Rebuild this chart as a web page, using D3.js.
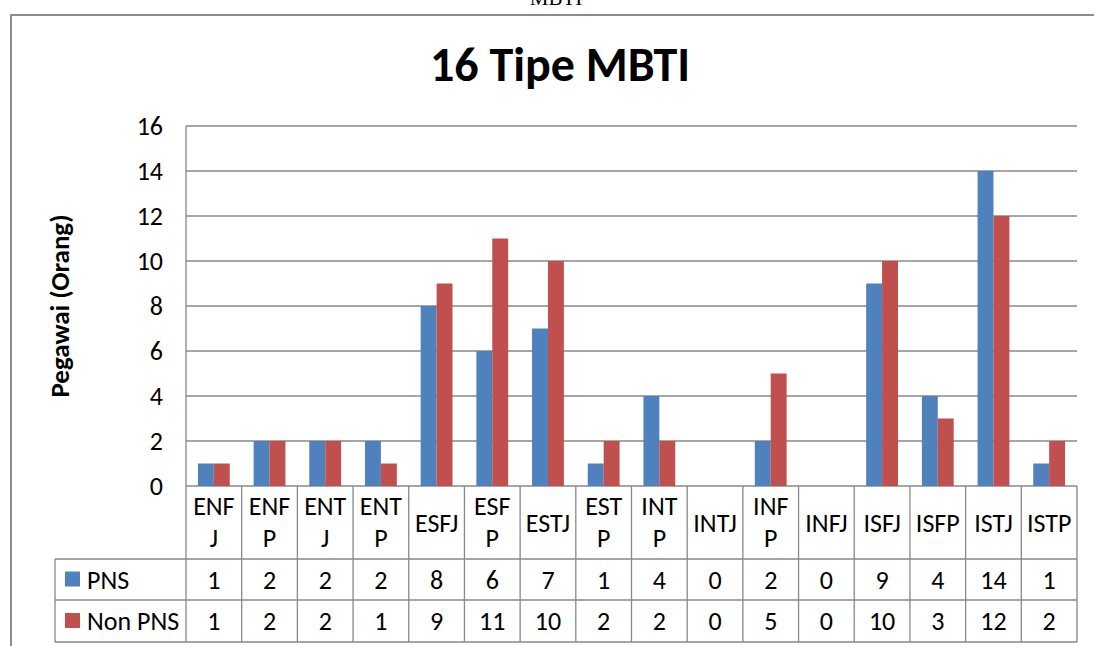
<!DOCTYPE html>
<html>
<head>
<meta charset="utf-8">
<script src="https://cdn.jsdelivr.net/npm/d3@7/dist/d3.min.js"></script>
<style>
  html, body { margin: 0; padding: 0; background: #fff; }
  svg { display: block; }
  text { font-family: Carlito, Lato, "Open Sans", sans-serif; fill: #000; }
</style>
</head>
<body>
<svg id="chart" width="1094" height="646"></svg>
<script>
// MBTI types and employee counts per group
const categories = ["ENFJ","ENFP","ENTJ","ENTP","ESFJ","ESFP","ESTJ","ESTP","INTP","INTJ","INFP","INFJ","ISFJ","ISFP","ISTJ","ISTP"];
const pns    = [1, 2, 2, 2, 8, 6, 7, 1, 4, 0, 2, 0, 9, 4, 14, 1];
const nonPns = [1, 2, 2, 1, 9, 11, 10, 2, 2, 0, 5, 0, 10, 3, 12, 2];
const seriesNames = ["PNS", "Non PNS"];
const yTicks = [0, 2, 4, 6, 8, 10, 12, 14, 16];
// labels that wrap onto two lines inside their table cell
const wrappedLabels = ["ENFJ","ENFP","ENTJ","ENTP","ESFP","ESTP","INTP","INFP"];

const colors = ["#4F81BD", "#C0504D"];
const gridColor = "#888888";
const fontSize = "26px";

const svg = d3.select("#chart");

const plot = { left: 186, right: 1077, top: 126, bottom: 486 };
const table = { left: 55, catBottom: 559, row1Bottom: 600, bottom: 642 };

// caption line above the chart frame
svg.append("text")
  .attr("x", 556).attr("y", 5)
  .attr("text-anchor", "middle")
  .style("font-family", "'Liberation Serif', 'DejaVu Serif', serif")
  .style("font-size", "21px")
  .text("MBTI");

// chart frame
svg.append("path")
  .attr("d", "M11,646 V15 H1094")
  .attr("fill", "none")
  .attr("stroke", "#8c8c8c")
  .attr("stroke-width", 2);

// title
svg.append("text")
  .attr("x", 560).attr("y", 81)
  .attr("text-anchor", "middle")
  .style("font-size", "48px")
  .style("font-weight", "bold")
  .text("16 Tipe MBTI");

const x = d3.scaleBand()
  .domain(categories)
  .range([plot.left, plot.right]);

const inner = d3.scaleBand()
  .domain(seriesNames)
  .range([0, x.bandwidth()])
  .paddingInner(0)
  .paddingOuter(0.75);

const y = d3.scaleLinear()
  .domain([0, 16])
  .range([plot.bottom, plot.top]);

// horizontal gridlines
svg.append("g")
  .selectAll("line")
  .data(yTicks)
  .join("line")
  .attr("x1", plot.left).attr("x2", plot.right)
  .attr("y1", d => y(d)).attr("y2", d => y(d))
  .attr("stroke", gridColor)
  .attr("stroke-width", 1.3);

// y axis with tick labels
const yAxis = d3.axisLeft(y).tickValues(yTicks).tickSize(0).tickPadding(23);
const gy = svg.append("g")
  .attr("transform", `translate(${plot.left},0)`)
  .call(yAxis);
gy.select(".domain").remove();
gy.selectAll("text")
  .style("font-family", "Carlito, Lato, 'Open Sans', sans-serif")
  .style("font-size", fontSize)
  .attr("dy", "0.33em")
  .attr("fill", "#000");

// y axis title
svg.append("text")
  .attr("transform", `translate(69,${(plot.top + plot.bottom) / 2}) rotate(-90)`)
  .attr("text-anchor", "middle")
  .style("font-size", "27px")
  .style("font-weight", "bold")
  .text("Pegawai (Orang)");

// bars
const seriesData = [pns, nonPns];
const rows = categories.map((c, i) => ({ cat: c, values: seriesData.map(s => s[i]) }));

const groups = svg.append("g")
  .selectAll("g")
  .data(rows)
  .join("g")
  .attr("transform", d => `translate(${x(d.cat)},0)`);

groups.selectAll("rect")
  .data(d => d.values.map((v, k) => ({ name: seriesNames[k], v, k })))
  .join("rect")
  .attr("x", d => inner(d.name))
  .attr("width", inner.bandwidth())
  .attr("y", d => y(d.v))
  .attr("height", d => y(0) - y(d.v))
  .attr("fill", d => colors[d.k]);

// data table grid
const tg = svg.append("g").attr("stroke", gridColor).attr("stroke-width", 1.3);
// vertical axis line continuing through the table
tg.append("line")
  .attr("x1", plot.left).attr("x2", plot.left)
  .attr("y1", plot.top).attr("y2", table.bottom);
// category boundaries
tg.selectAll("line.vb")
  .data(categories)
  .join("line")
  .attr("class", "vb")
  .attr("x1", d => x(d) + x.bandwidth()).attr("x2", d => x(d) + x.bandwidth())
  .attr("y1", plot.bottom).attr("y2", table.bottom);
// row lines
[table.catBottom, table.row1Bottom, table.bottom].forEach(yy => {
  tg.append("line")
    .attr("x1", table.left).attr("x2", plot.right)
    .attr("y1", yy).attr("y2", yy);
});
tg.append("line")
  .attr("x1", table.left).attr("x2", table.left)
  .attr("y1", table.catBottom).attr("y2", table.bottom);

// category labels
const catMid = (plot.bottom + table.catBottom) / 2;
const catText = svg.append("g")
  .selectAll("text")
  .data(categories)
  .join("text")
  .attr("x", d => x(d) + x.bandwidth() / 2)
  .attr("text-anchor", "middle")
  .style("font-size", fontSize);

catText.each(function(d) {
  const t = d3.select(this);
  const cx = x(d) + x.bandwidth() / 2;
  if (wrappedLabels.includes(d)) {
    t.append("tspan").attr("x", cx).attr("y", catMid - 8).text(d.slice(0, 3));
    t.append("tspan").attr("x", cx).attr("y", catMid + 24).text(d.slice(3));
  } else {
    t.attr("y", catMid + 9).text(d);
  }
});

// value rows
const rowMids = [(table.catBottom + table.row1Bottom) / 2, (table.row1Bottom + table.bottom) / 2];
seriesData.forEach((vals, k) => {
  svg.append("g")
    .selectAll("text")
    .data(vals)
    .join("text")
    .attr("x", (v, i) => x(categories[i]) + x.bandwidth() / 2)
    .attr("y", rowMids[k] + 9)
    .attr("text-anchor", "middle")
    .style("font-size", fontSize)
    .text(v => v);

  // legend key in the row header
  svg.append("rect")
    .attr("x", 65).attr("y", rowMids[k] - 8)
    .attr("width", 15).attr("height", 15)
    .attr("fill", colors[k]);
  svg.append("text")
    .attr("x", 87).attr("y", rowMids[k] + 9)
    .style("font-size", fontSize)
    .text(seriesNames[k]);
});
</script>
</body>
</html>
